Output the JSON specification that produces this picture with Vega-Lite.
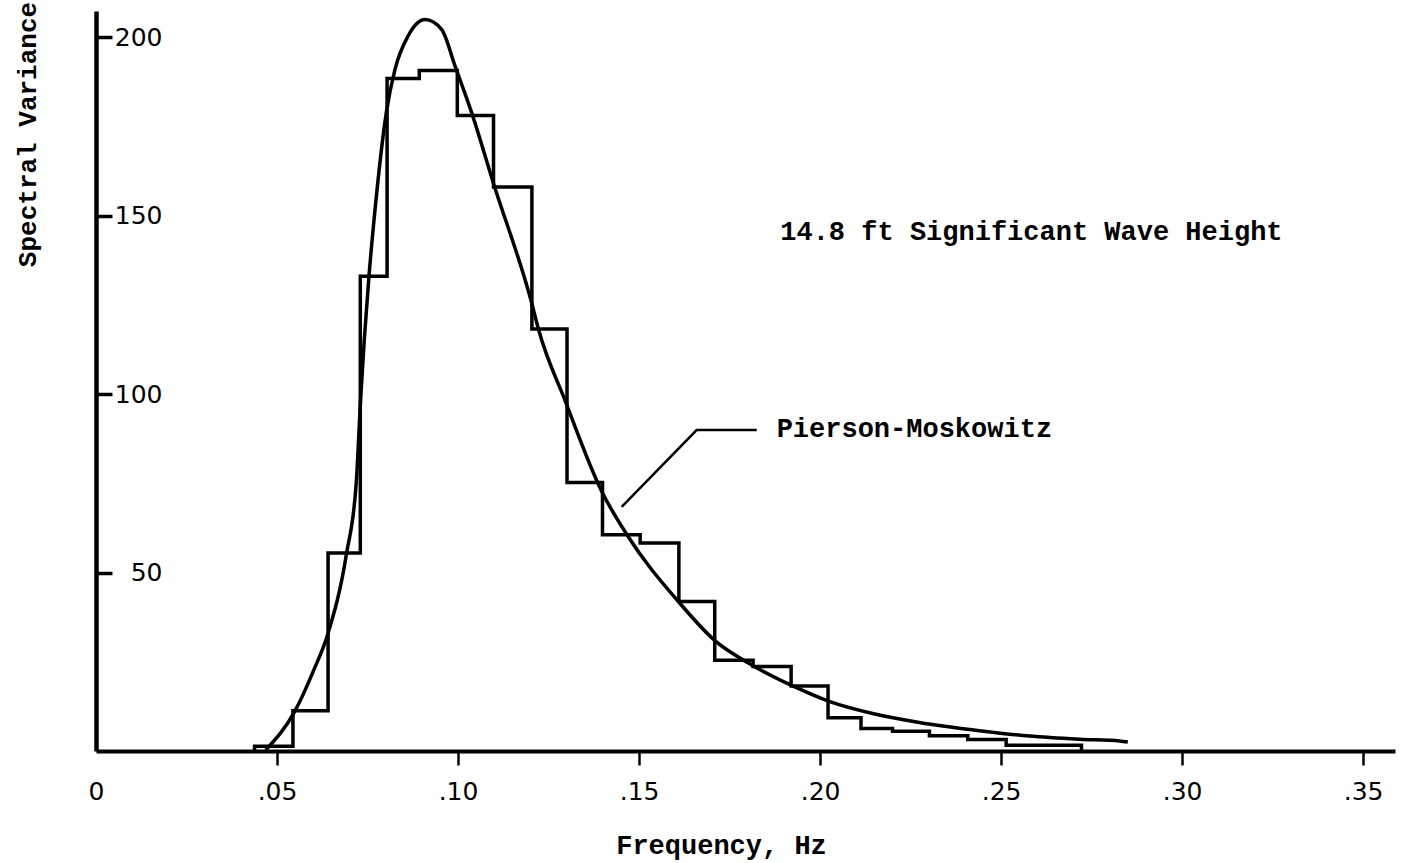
{
  "$schema": "https://vega.github.io/schema/vega-lite/v6.json",
  "width": 1299,
  "height": 740,
  "autosize": {"type": "none"},
  "padding": {"left": 96, "top": 11, "right": 14, "bottom": 112},
  "background": "white",
  "config": {"view": {"stroke": null}, "font": "Liberation Mono"},
  "datasets": {
    "histogram": [
      {"i": 0, "f": 0.0438, "v": 0},
      {"i": 1, "f": 0.0438, "v": 1.3},
      {"i": 2, "f": 0.0544, "v": 11.3},
      {"i": 3, "f": 0.0641, "v": 55.5},
      {"i": 4, "f": 0.0730, "v": 133.0},
      {"i": 5, "f": 0.0804, "v": 188.4},
      {"i": 6, "f": 0.0893, "v": 190.6},
      {"i": 7, "f": 0.0998, "v": 178.0},
      {"i": 8, "f": 0.1098, "v": 158.0},
      {"i": 9, "f": 0.1204, "v": 118.2},
      {"i": 10, "f": 0.1301, "v": 75.2},
      {"i": 11, "f": 0.1399, "v": 60.6},
      {"i": 12, "f": 0.1503, "v": 58.3},
      {"i": 13, "f": 0.1610, "v": 41.9},
      {"i": 14, "f": 0.1709, "v": 25.4},
      {"i": 15, "f": 0.1815, "v": 23.7},
      {"i": 16, "f": 0.1920, "v": 18.2},
      {"i": 17, "f": 0.2022, "v": 9.3},
      {"i": 18, "f": 0.2113, "v": 6.3},
      {"i": 19, "f": 0.2200, "v": 5.5},
      {"i": 20, "f": 0.2302, "v": 4.3},
      {"i": 21, "f": 0.2408, "v": 3.2},
      {"i": 22, "f": 0.2514, "v": 1.6},
      {"i": 23, "f": 0.2722, "v": 0}
    ],
    "curve": [
      {"i": 0, "f": 0.0469, "v": 0.3},
      {"i": 1, "f": 0.0549, "v": 11.1},
      {"i": 2, "f": 0.0600, "v": 22.3},
      {"i": 3, "f": 0.0641, "v": 33.0},
      {"i": 4, "f": 0.0692, "v": 55.3},
      {"i": 5, "f": 0.0719, "v": 75.4},
      {"i": 6, "f": 0.0731, "v": 98.7},
      {"i": 7, "f": 0.0754, "v": 133.0},
      {"i": 8, "f": 0.0770, "v": 150.9},
      {"i": 9, "f": 0.0802, "v": 178.9},
      {"i": 10, "f": 0.0826, "v": 191.0},
      {"i": 11, "f": 0.0862, "v": 200.3},
      {"i": 12, "f": 0.0909, "v": 204.9},
      {"i": 13, "f": 0.0955, "v": 202.1},
      {"i": 14, "f": 0.0992, "v": 191.8},
      {"i": 15, "f": 0.1038, "v": 178.7},
      {"i": 16, "f": 0.1098, "v": 159.0},
      {"i": 17, "f": 0.1204, "v": 125.3},
      {"i": 18, "f": 0.1222, "v": 118.2},
      {"i": 19, "f": 0.1296, "v": 98.1},
      {"i": 20, "f": 0.1397, "v": 72.7},
      {"i": 21, "f": 0.1467, "v": 60.5},
      {"i": 22, "f": 0.1610, "v": 41.7},
      {"i": 23, "f": 0.1711, "v": 30.8},
      {"i": 24, "f": 0.1803, "v": 24.6},
      {"i": 25, "f": 0.1923, "v": 18.3},
      {"i": 26, "f": 0.2025, "v": 13.9},
      {"i": 27, "f": 0.2145, "v": 10.5},
      {"i": 28, "f": 0.2274, "v": 8.0},
      {"i": 29, "f": 0.2440, "v": 5.7},
      {"i": 30, "f": 0.2578, "v": 4.2},
      {"i": 31, "f": 0.2717, "v": 3.3},
      {"i": 32, "f": 0.2827, "v": 2.8},
      {"i": 33, "f": 0.2850, "v": 2.5}
    ],
    "leader": [
      {"i": 0, "f": 0.1452, "v": 68.4},
      {"i": 1, "f": 0.1659, "v": 89.9},
      {"i": 2, "f": 0.1825, "v": 89.9}
    ],
    "labels": [
      {"f": 0.1880, "v": 90.2, "label": "Pierson-Moskowitz"},
      {"f": 0.1890, "v": 145.4, "label": "14.8 ft Significant Wave Height"}
    ]
  },
  "encoding": {
    "x": {
      "field": "f",
      "type": "quantitative",
      "scale": {"domain": [0, 0.3588], "nice": false, "zero": false},
      "axis": {
        "title": "Frequency, Hz",
        "values": [0, 0.05, 0.1, 0.15, 0.2, 0.25, 0.3, 0.35],
        "labelExpr": "datum.value == 0 ? '0' : replace(format(datum.value, '.2f'), '0.', '.')",
        "grid": false,
        "domainColor": "black",
        "domainWidth": 4,
        "tickColor": "black",
        "tickWidth": 2.5,
        "tickSize": 14,
        "tickOpacity": {"condition": {"test": "datum.value == 0", "value": 0}, "value": 1},
        "labelFont": "DejaVu Sans",
        "labelFontSize": 25,
        "labelColor": "black",
        "labelPadding": 14,
        "labelDx": -3,
        "labelFlush": false,
        "labelOverlap": false,
        "titleFont": "Liberation Mono",
        "titleFontSize": 27,
        "titleFontWeight": "bold",
        "titleColor": "black",
        "titleX": 625,
        "titleY": 94,
        "titleAlign": "center",
        "titleBaseline": "middle"
      }
    },
    "y": {
      "field": "v",
      "type": "quantitative",
      "scale": {"domain": [0, 207.3], "nice": false},
      "axis": {
        "title": "Spectral Variance",
        "values": [50, 100, 150, 200],
        "grid": false,
        "domainColor": "black",
        "domainWidth": 4.5,
        "tickColor": "black",
        "tickWidth": 3.5,
        "tickSize": -16,
        "labelPadding": -50,
        "labelAlign": "right",
        "labelBaseline": "middle",
        "labelFont": "DejaVu Sans",
        "labelFontSize": 25,
        "labelColor": "black",
        "labelFlush": false,
        "labelOverlap": false,
        "titleFont": "Liberation Mono",
        "titleFontSize": 26,
        "titleFontWeight": "bold",
        "titleColor": "black",
        "titleX": -69,
        "titleY": 123,
        "titleAngle": -90,
        "titleAlign": "center",
        "titleBaseline": "middle"
      }
    }
  },
  "layer": [
    {
      "data": {"name": "histogram"},
      "mark": {"type": "line", "interpolate": "step-after", "color": "black", "strokeWidth": 3.5},
      "encoding": {"order": {"field": "i", "type": "quantitative"}}
    },
    {
      "data": {"name": "curve"},
      "mark": {"type": "line", "interpolate": "monotone", "color": "black", "strokeWidth": 3.5},
      "encoding": {"order": {"field": "i", "type": "quantitative"}}
    },
    {
      "data": {"name": "leader"},
      "mark": {"type": "line", "color": "black", "strokeWidth": 2.5},
      "encoding": {"order": {"field": "i", "type": "quantitative"}}
    },
    {
      "data": {"name": "labels"},
      "mark": {"type": "text", "align": "left", "baseline": "middle", "font": "Liberation Mono", "fontSize": 27, "fontWeight": "bold", "color": "black"},
      "encoding": {"text": {"field": "label", "type": "nominal"}}
    }
  ]
}
